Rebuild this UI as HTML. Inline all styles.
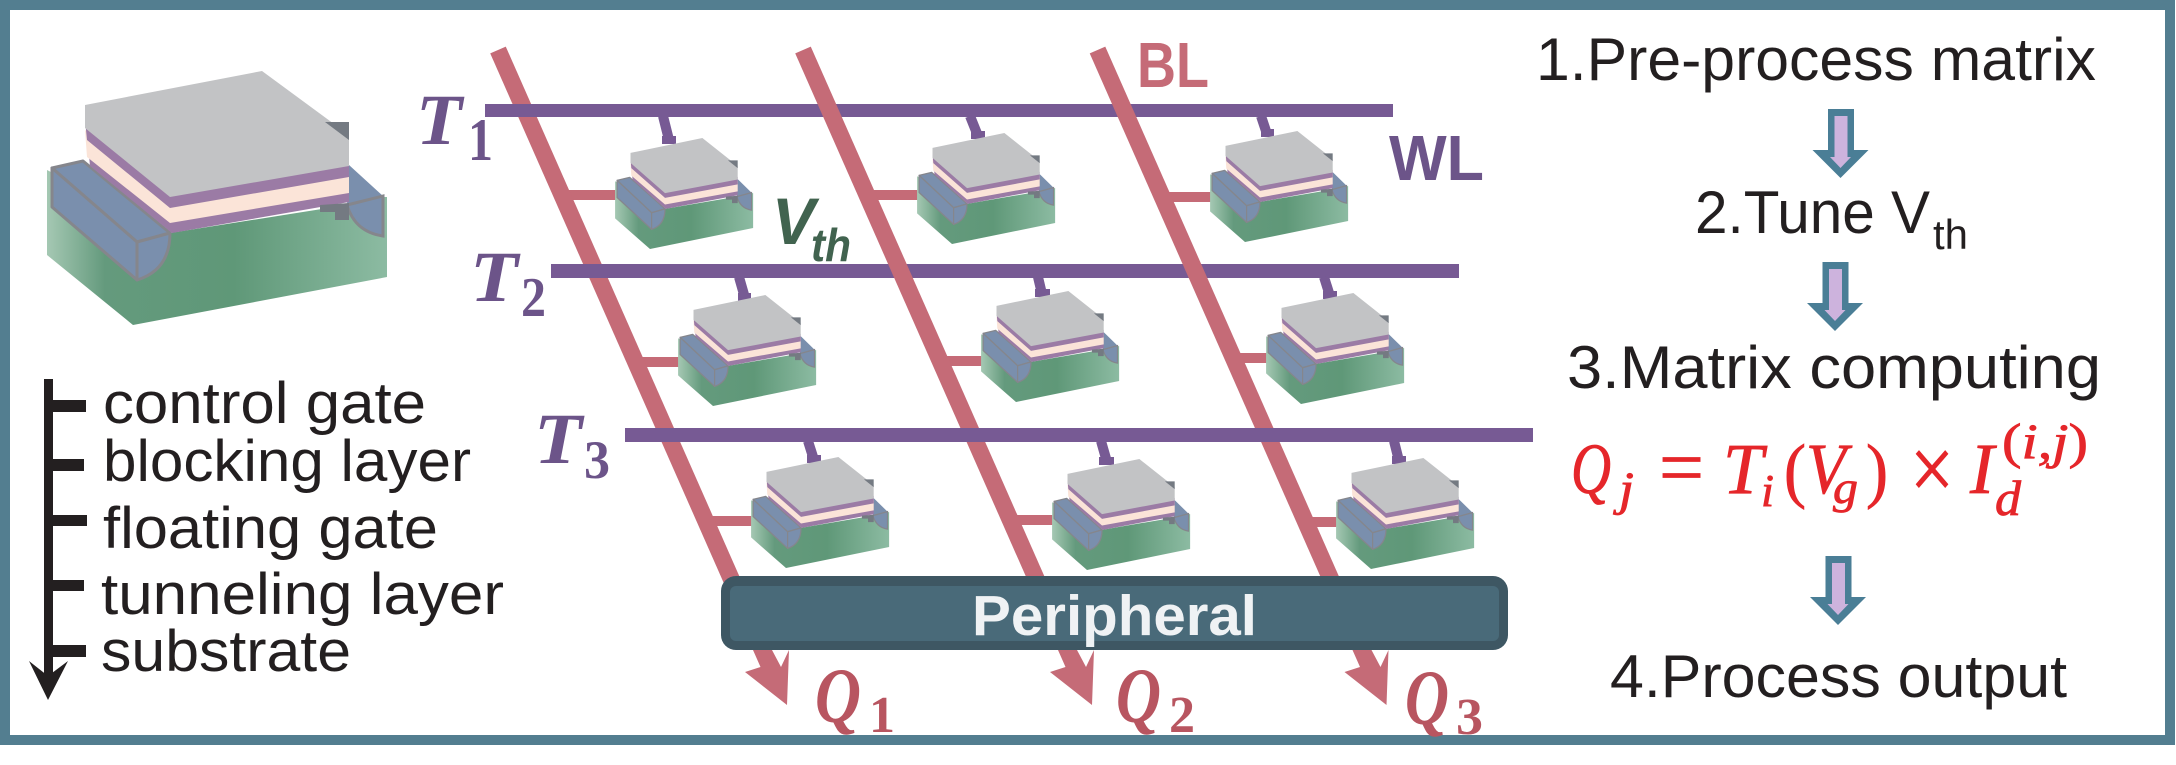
<!DOCTYPE html>
<html>
<head>
<meta charset="utf-8">
<title>Flash memory matrix computing diagram</title>
<style>
html,body{margin:0;padding:0;background:#fff}
svg{display:block}
.s{font-family:"Liberation Sans",sans-serif}
.m{font-family:"Liberation Serif",serif}
</style>
</head>
<body>
<svg width="2176" height="765" viewBox="0 0 2176 765" xmlns="http://www.w3.org/2000/svg">
<defs>
<linearGradient id="gr" x1="47" x2="387" y1="0" y2="0" gradientUnits="userSpaceOnUse">
<stop offset="0" stop-color="#a5c8b3"/><stop offset=".17" stop-color="#649a7d"/><stop offset=".55" stop-color="#5f9878"/><stop offset="1" stop-color="#8cbba2"/>
</linearGradient>
<g id="cell">
<polygon fill="url(#gr)" points="47,170 170,233 347,205 383,197 387,197 387,277 133,325 47,255"/>
<path d="M349,165 L383,196 L347,205 Z" fill="#7a8fad"/>
<path d="M347,205 L383,196 L383,236 Q355,232 347,205 Z" fill="#7a8fad" stroke="#85868c" stroke-width="3"/>
<g fill="#7a8fad" stroke="#85868c" stroke-width="3" stroke-linejoin="round">
<polygon points="52,168 83,161 170,233 137,242"/>
<polygon points="52,168 137,242 137,280 52,207"/>
<path d="M137,242 L170,233 Q170,270 137,280 Z"/>
</g>
<polygon fill="#9b7ba5" points="87,135 170,200 349,170 349,202 172,233 90,166"/>
<polygon fill="#fbe4d8" points="85,130 170,198 349,170 349,193 170,223 87,157"/>
<polygon fill="#9b7ba5" points="85,120 170,190 349,160 349,177 170,208 87,140"/>
<polygon fill="#c2c3c5" points="85,105 262,71 349,135 349,166 170,197 85,128"/>
<polygon fill="#747a82" points="325,122 349,122 349,140"/>
<polygon fill="#747a82" points="320,205 349,203 349,220 335,220 335,212 320,212"/>
</g>
<g id="down">
<polygon fill="#4a7e96" points="1828,109 1854,109 1854,150 1868.5,150 1840.5,178 1812.5,150 1828,150"/>
<polygon fill="#cdb3dd" points="1834.5,116 1847.5,116 1847.5,157 1851,157 1840.5,168 1830,157 1834.5,157"/>
</g>
<polygon id="head" fill="#c56b77" points="753,650 760.5,667 745,672 787,705 789,650 781,667 772,650"/>
</defs>

<rect x="5" y="5" width="2165" height="735" fill="#fff" stroke="#537e90" stroke-width="10"/>

<!-- large cell -->
<use href="#cell"/>

<!-- layer legend -->
<g fill="#231f20">
<rect x="44" y="379" width="9" height="300"/>
<rect x="44" y="400" width="42" height="12"/>
<rect x="44" y="459" width="40" height="12"/>
<rect x="44" y="515" width="43" height="11"/>
<rect x="44" y="580" width="40" height="11"/>
<rect x="44" y="645" width="42" height="12"/>
<polygon points="29,661 48,676 68,661 48,700"/>
</g>
<g class="s" fill="#231f20" font-size="58">
<text x="103" y="423" textLength="323" lengthAdjust="spacingAndGlyphs">control gate</text>
<text x="103" y="481" textLength="368" lengthAdjust="spacingAndGlyphs">blocking layer</text>
<text x="103" y="548" textLength="335" lengthAdjust="spacingAndGlyphs">floating gate</text>
<text x="101" y="614" textLength="403" lengthAdjust="spacingAndGlyphs">tunneling layer</text>
<text x="101" y="671" textLength="250" lengthAdjust="spacingAndGlyphs">substrate</text>
</g>

<!-- bit line stubs -->
<g fill="#c56b77">
<rect x="562" y="190" width="56" height="10"/>
<rect x="867" y="190" width="53" height="10"/>
<rect x="1161" y="192" width="52" height="10"/>
<rect x="636" y="357" width="45" height="10"/>
<rect x="941" y="356" width="43" height="10"/>
<rect x="1233" y="353" width="36" height="10"/>
<rect x="706" y="516" width="48" height="10"/>
<rect x="1011" y="515" width="44" height="10"/>
<rect x="1305" y="517" width="34" height="10"/>
</g>

<!-- lines with crossing order -->
<line x1="498" y1="50" x2="762.6" y2="650" stroke="#c56b77" stroke-width="17"/>
<rect x="485" y="104" width="908" height="13" fill="#775a94"/>
<rect x="551" y="264" width="908" height="14" fill="#775a94"/>
<line x1="803" y1="50" x2="1067.6" y2="650" stroke="#c56b77" stroke-width="17"/>
<line x1="1097.5" y1="50" x2="1362.1" y2="650" stroke="#c56b77" stroke-width="17"/>
<rect x="625" y="428" width="908" height="14" fill="#775a94"/>
<use href="#head"/>
<use href="#head" x="305"/>
<use href="#head" x="599.5"/>

<!-- gate stems -->
<g stroke="#775a94" stroke-width="10" fill="none">
<line x1="663" y1="116" x2="669" y2="140"/>
<line x1="970" y1="116" x2="978" y2="136"/>
<line x1="1261" y1="116" x2="1267" y2="134"/>
<line x1="739" y1="277" x2="745" y2="298"/>
<line x1="1038" y1="277" x2="1042" y2="294"/>
<line x1="1324" y1="277" x2="1330" y2="296"/>
<line x1="808" y1="441" x2="814" y2="460"/>
<line x1="1101" y1="441" x2="1107" y2="462"/>
<line x1="1394" y1="441" x2="1399" y2="461"/>
</g>
<g fill="#775a94">
<rect x="662" y="136" width="14" height="8"/>
<rect x="971" y="131" width="14" height="8"/>
<rect x="1261" y="129" width="13" height="8"/>
<rect x="738" y="293" width="13" height="8"/>
<rect x="1035" y="289" width="15" height="8"/>
<rect x="1323" y="291" width="14" height="8"/>
<rect x="807" y="455" width="14" height="8"/>
<rect x="1099" y="457" width="15" height="8"/>
<rect x="1392" y="456" width="14" height="8"/>
</g>

<!-- small cells -->
<use href="#cell" transform="translate(596,107) scale(.406,.437)"/>
<use href="#cell" transform="translate(898,102) scale(.406,.437)"/>
<use href="#cell" transform="translate(1191,100) scale(.406,.437)"/>
<use href="#cell" transform="translate(659,264) scale(.406,.437)"/>
<use href="#cell" transform="translate(962,260) scale(.406,.437)"/>
<use href="#cell" transform="translate(1247,262) scale(.406,.437)"/>
<use href="#cell" transform="translate(732,426) scale(.406,.437)"/>
<use href="#cell" transform="translate(1033,428) scale(.406,.437)"/>
<use href="#cell" transform="translate(1317,427) scale(.406,.437)"/>

<!-- peripheral -->
<rect x="721" y="576" width="787" height="74" rx="15" fill="#3e5763"/>
<rect x="730" y="586" width="769" height="55" rx="6" fill="#496a79"/>
<text class="s" x="972" y="635" font-size="57" font-weight="bold" fill="#eff2f4" textLength="285" lengthAdjust="spacingAndGlyphs">Peripheral</text>

<!-- T labels -->
<g class="m" fill="#6c5489" font-weight="bold">
<text x="416" y="144" font-size="72" font-style="italic" textLength="46" lengthAdjust="spacingAndGlyphs">T</text>
<text x="468" y="160" font-size="60" textLength="25" lengthAdjust="spacingAndGlyphs">1</text>
<text x="470" y="301" font-size="72" font-style="italic" textLength="48" lengthAdjust="spacingAndGlyphs">T</text>
<text x="521" y="316" font-size="56" textLength="25" lengthAdjust="spacingAndGlyphs">2</text>
<text x="534" y="463" font-size="72" font-style="italic" textLength="48" lengthAdjust="spacingAndGlyphs">T</text>
<text x="584" y="478" font-size="54" textLength="26" lengthAdjust="spacingAndGlyphs">3</text>
</g>

<!-- Q labels -->
<g class="m" fill="#b85560" font-weight="bold">
<text x="815" y="722" font-size="78" font-style="italic" textLength="46" lengthAdjust="spacingAndGlyphs">Q</text>
<text x="869" y="732" font-size="52" textLength="26" lengthAdjust="spacingAndGlyphs">1</text>
<text x="1116" y="722" font-size="78" font-style="italic" textLength="45" lengthAdjust="spacingAndGlyphs">Q</text>
<text x="1169" y="732" font-size="52" textLength="26" lengthAdjust="spacingAndGlyphs">2</text>
<text x="1405" y="724" font-size="78" font-style="italic" textLength="44" lengthAdjust="spacingAndGlyphs">Q</text>
<text x="1456" y="734" font-size="52" textLength="27" lengthAdjust="spacingAndGlyphs">3</text>
</g>

<!-- line labels -->
<g class="s" font-weight="bold">
<text x="772" y="244" font-size="66" font-style="italic" fill="#41634f" textLength="43" lengthAdjust="spacingAndGlyphs">V</text>
<text x="811" y="261" font-size="46" font-style="italic" fill="#41634f" textLength="40" lengthAdjust="spacingAndGlyphs">th</text>
<text x="1137" y="87" font-size="64" fill="#c56b77" textLength="72" lengthAdjust="spacingAndGlyphs">BL</text>
<text x="1389" y="180" font-size="64" fill="#6c5489" textLength="95" lengthAdjust="spacingAndGlyphs">WL</text>
</g>

<!-- right steps -->
<g class="s" fill="#231f20" font-size="60">
<text x="1536" y="80" textLength="560" lengthAdjust="spacingAndGlyphs">1.Pre-process matrix</text>
<text x="1695" y="233" textLength="235" lengthAdjust="spacingAndGlyphs">2.Tune V</text>
<text x="1933" y="249" font-size="42" textLength="35" lengthAdjust="spacingAndGlyphs">th</text>
<text x="1567" y="388" textLength="534" lengthAdjust="spacingAndGlyphs">3.Matrix computing</text>
<text x="1610" y="697" textLength="457" lengthAdjust="spacingAndGlyphs">4.Process output</text>
</g>
<use href="#down"/>
<use href="#down" x="-5.5" y="153"/>
<use href="#down" x="-2.5" y="447"/>

<!-- equation -->
<g class="m" fill="#e5262a" stroke="#e5262a" stroke-width=".8" font-style="italic">
<text x="1571" y="493" font-size="72" textLength="40" lengthAdjust="spacingAndGlyphs">Q</text>
<text x="1619" y="505" font-size="48" textLength="15" lengthAdjust="spacingAndGlyphs">j</text>
<text x="1723" y="493" font-size="72" textLength="40" lengthAdjust="spacingAndGlyphs">T</text>
<text x="1761" y="506" font-size="46" textLength="13" lengthAdjust="spacingAndGlyphs">i</text>
<text x="1806" y="493" font-size="72" textLength="40" lengthAdjust="spacingAndGlyphs">V</text>
<text x="1833" y="503" font-size="46" textLength="25" lengthAdjust="spacingAndGlyphs">g</text>
<text x="1970" y="493" font-size="72" textLength="24" lengthAdjust="spacingAndGlyphs">I</text>
<text x="1995" y="515" font-size="50" textLength="26" lengthAdjust="spacingAndGlyphs">d</text>
<text x="2002" y="458" font-size="50" textLength="86" lengthAdjust="spacingAndGlyphs" font-style="normal">(<tspan font-style="italic">i,j</tspan>)</text>
<text x="1659" y="494" font-size="80" font-style="normal" textLength="45" lengthAdjust="spacingAndGlyphs">=</text>
<text x="1784" y="494" font-size="72" font-style="normal" textLength="22" lengthAdjust="spacingAndGlyphs">(</text>
<text x="1866" y="494" font-size="72" font-style="normal" textLength="22" lengthAdjust="spacingAndGlyphs">)</text>
<text x="1910" y="499" font-size="90" font-style="normal" textLength="44" lengthAdjust="spacingAndGlyphs">×</text>
</g>
</svg>
</body>
</html>
